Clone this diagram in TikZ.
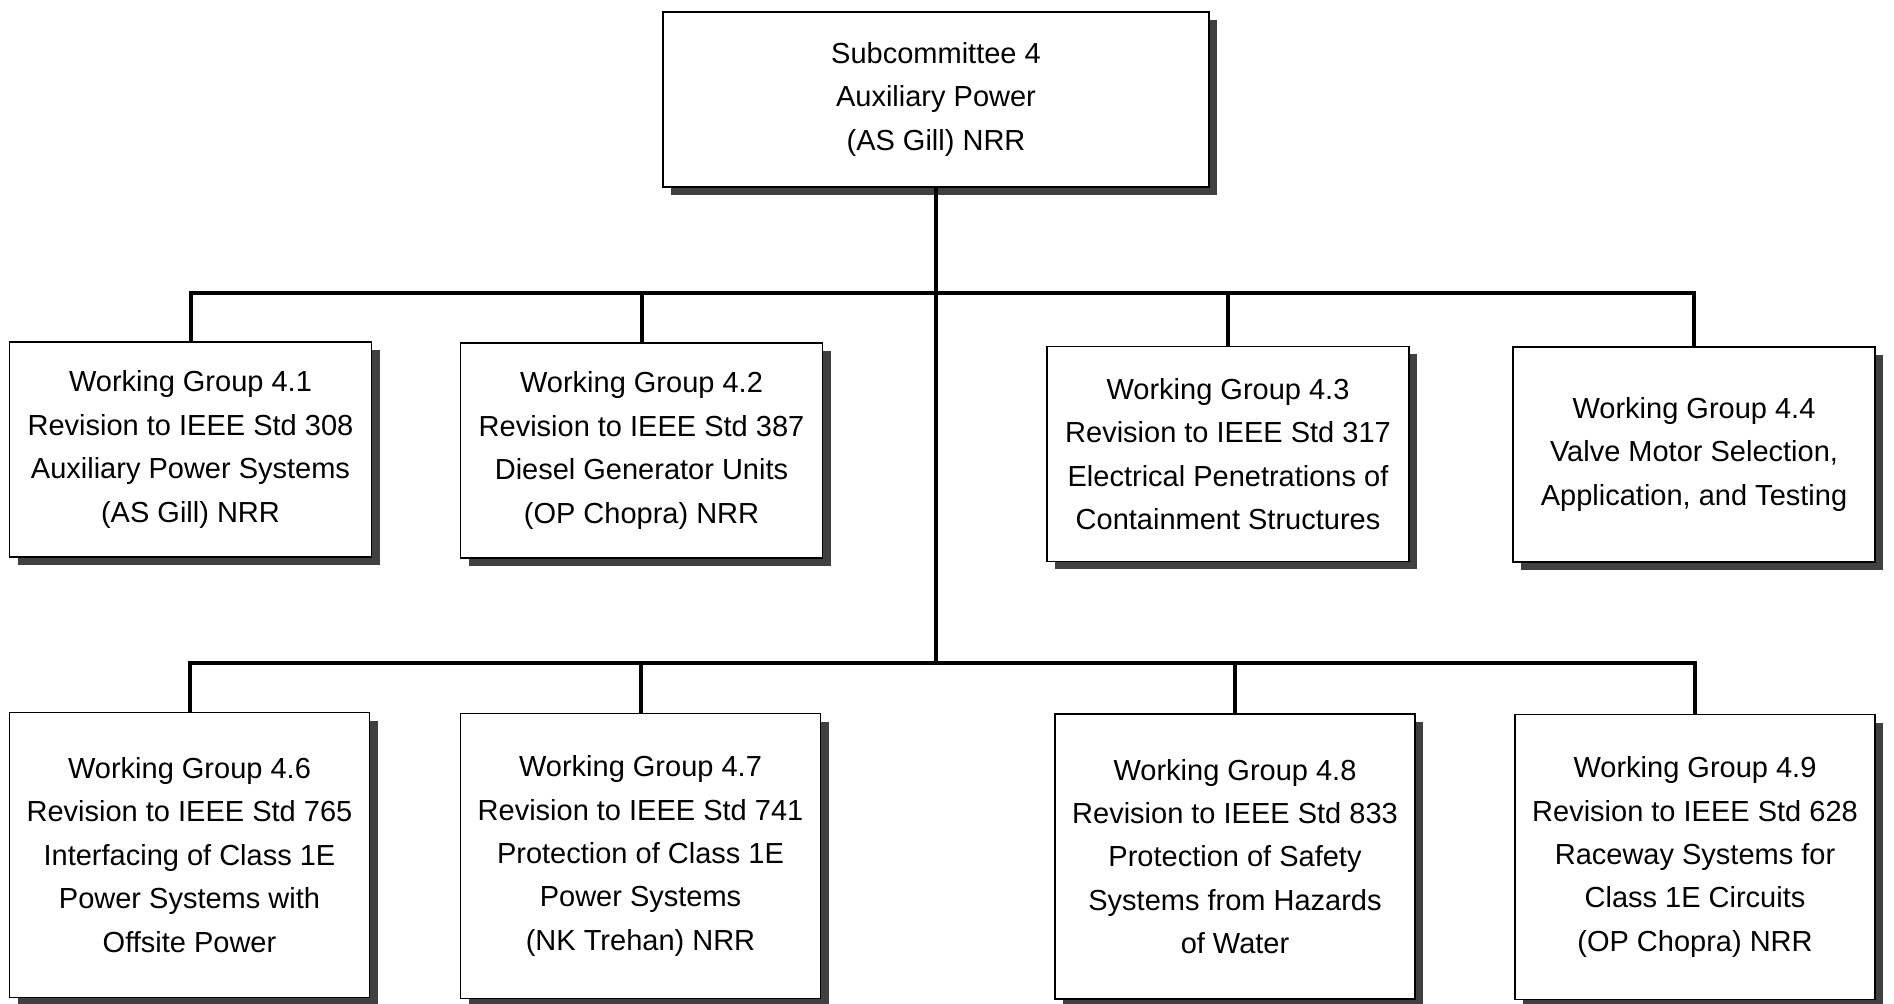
\documentclass[tikz,border=0pt]{standalone}
\usepackage{fontspec}
\setmainfont{Liberation Sans}
\usetikzlibrary{shadows}

\tikzset{
  orgbox/.style={draw, fill=white, line width=0.6pt, align=center,
    font=\fontsize{14.5}{21.7}\selectfont,
    drop shadow={shadow xshift=4pt, shadow yshift=-4pt, fill=black!75, opacity=1}},
  topbox/.style={orgbox, minimum width=273pt, minimum height=87.5pt},
  wgbox/.style={orgbox, minimum width=181pt, minimum height=107.5pt},
  wgtall/.style={orgbox, minimum width=180pt, minimum height=142.5pt},
  link/.style={line width=2pt}
}

\begin{document}
\begin{tikzpicture}[x=0.5pt, y=-0.5pt]

  \useasboundingbox (0,0) rectangle (1894,1004);

  % Subcommittee
  \node[topbox] (sc4) at (936,99.5) {Subcommittee 4\\Auxiliary Power\\(AS Gill) NRR};

  % Junctions on the two bars
  \coordinate (j1) at (936,293.5);
  \coordinate (j2) at (936,663);

  % First row of working groups
  \node[wgbox] (wg41) at (190.5,449.5) {Working Group 4.1\\Revision to IEEE Std 308\\Auxiliary Power Systems\\(AS Gill) NRR};
  \node[wgbox] (wg42) at (641.5,450.5) {Working Group 4.2\\Revision to IEEE Std 387\\Diesel Generator Units\\(OP Chopra) NRR};
  \node[wgbox] (wg43) at (1228,454) {Working Group 4.3\\Revision to IEEE Std 317\\Electrical Penetrations of\\Containment Structures};
  \node[wgbox] (wg44) at (1694,454.5) {Working Group 4.4\\Valve Motor Selection,\\Application, and Testing};

  % Second row of working groups
  \node[wgtall] (wg46) at (189.5,855) {Working Group 4.6\\Revision to IEEE Std 765\\Interfacing of Class 1E\\Power Systems with\\Offsite Power};
  \node[wgtall] (wg47) at (640.5,856) {Working Group 4.7\\Revision to IEEE Std 741\\Protection of Class 1E\\Power Systems\\(NK Trehan) NRR};
  \node[wgtall] (wg48) at (1235,856.5) {Working Group 4.8\\Revision to IEEE Std 833\\Protection of Safety\\Systems from Hazards\\of Water};
  \node[wgtall] (wg49) at (1695,857) {Working Group 4.9\\Revision to IEEE Std 628\\Raceway Systems for\\Class 1E Circuits\\(OP Chopra) NRR};

  % Trunk and bars
  \draw[link] (sc4.south) -- (j2);
  \draw[link] (wg41.north) |- (j1) -| (wg44.north);
  \draw[link] (wg46.north) |- (j2) -| (wg49.north);
  \foreach \wg in {wg42, wg43} \draw[link] (\wg.north) -- (\wg.north |- j1);
  \foreach \wg in {wg47, wg48} \draw[link] (\wg.north) -- (\wg.north |- j2);

\end{tikzpicture}
\end{document}
